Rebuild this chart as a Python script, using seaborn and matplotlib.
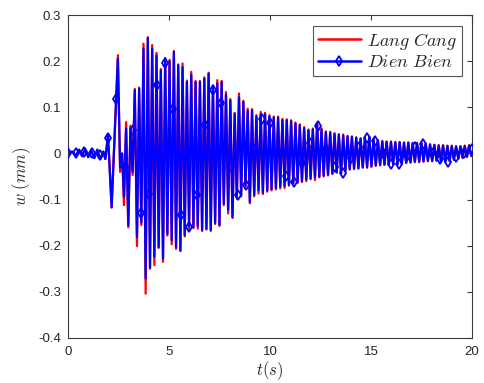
import numpy as np
import pandas as pd
import matplotlib
matplotlib.use("Agg")
import matplotlib.pyplot as plt
from matplotlib.lines import Line2D
import seaborn as sns

# ---------------- data ----------------
# early part of the records (time s, displacement mm)
early_t = [0.0, 0.2, 0.4, 0.55, 0.7, 0.85, 1.0, 1.15, 1.3, 1.45, 1.6, 1.75, 1.85, 1.98, 2.16, 2.47, 2.58, 2.68]
early_db = [0.0, 0.004, -0.004, 0.008, -0.006, 0.010, -0.008, 0.006, -0.010, 0.008, -0.012, 0.004, -0.012, 0.040, -0.117, 0.205, -0.030, 0.000]
early_lc = [0.0, 0.004, -0.004, 0.008, -0.006, 0.010, -0.008, 0.006, -0.010, 0.008, -0.012, 0.004, -0.012, 0.040, -0.117, 0.213, -0.040, 0.000]

# strong-motion part: alternating troughs / peaks, first trough at t0, half period dt
t0 = 2.77
dt = 0.1075
troughs_db = [-0.094, -0.156, -0.040, -0.181, -0.150, -0.271, -0.247, -0.224, -0.203, -0.228,
              -0.174, -0.188, -0.203, -0.210, -0.177, -0.158, -0.160, -0.157, -0.166, -0.163,
              -0.166, -0.150, -0.155, -0.109, -0.122, -0.138, -0.094, -0.090, -0.070, -0.105,
              -0.090, -0.080, -0.085, -0.080, -0.078, -0.075, -0.072, -0.070, -0.068, -0.064,
              -0.062, -0.060, -0.056, -0.054, -0.052, -0.050, -0.048, -0.046, -0.043, -0.040,
              -0.044, -0.038, -0.034, -0.033, -0.032, -0.030, -0.030, -0.028, -0.026, -0.025,
              -0.024, -0.024, -0.023, -0.024, -0.022, -0.020, -0.019, -0.018, -0.018, -0.017,
              -0.016, -0.016, -0.015, -0.016, -0.018, -0.016, -0.013, -0.011, -0.009, -0.007,
              -0.005]
troughs_lc = [-0.112, -0.160, -0.047, -0.201, -0.155, -0.304, -0.250, -0.242, -0.205, -0.235,
              -0.178, -0.197, -0.207, -0.212, -0.180, -0.166, -0.162, -0.163, -0.168, -0.165,
              -0.168, -0.153, -0.157, -0.112, -0.130, -0.140, -0.098, -0.093, -0.072, -0.108,
              -0.093, -0.087, -0.088, -0.083, -0.080, -0.078, -0.076, -0.075, -0.070, -0.066,
              -0.064, -0.062, -0.060, -0.056, -0.058, -0.052, -0.050, -0.048, -0.045, -0.042,
              -0.045, -0.039, -0.035, -0.034, -0.033, -0.031, -0.031, -0.029, -0.027, -0.026,
              -0.025, -0.025, -0.024, -0.025, -0.023, -0.021, -0.020, -0.019, -0.019, -0.018,
              -0.017, -0.017, -0.016, -0.017, -0.019, -0.017, -0.014, -0.012, -0.010, -0.008,
              -0.006]
peaks_db = [0.054, 0.055, 0.137, 0.140, 0.227, 0.250, 0.227, 0.212, 0.180, 0.205,
            0.200, 0.220, 0.191, 0.187, 0.155, 0.170, 0.155, 0.155, 0.162, 0.173,
            0.145, 0.152, 0.155, 0.127, 0.115, 0.086, 0.122, 0.112, 0.092, 0.094,
            0.080, 0.085, 0.085, 0.080, 0.078, 0.078, 0.072, 0.072, 0.070, 0.065,
            0.061, 0.055, 0.050, 0.052, 0.063, 0.052, 0.046, 0.045, 0.042, 0.040,
            0.039, 0.037, 0.036, 0.034, 0.032, 0.034, 0.036, 0.030, 0.028, 0.026,
            0.025, 0.025, 0.024, 0.024, 0.023, 0.023, 0.022, 0.022, 0.023, 0.021,
            0.019, 0.018, 0.017, 0.017, 0.016, 0.016, 0.015, 0.015, 0.016, 0.017]
peaks_lc = [0.068, 0.060, 0.140, 0.143, 0.238, 0.252, 0.235, 0.218, 0.183, 0.207,
            0.203, 0.222, 0.193, 0.195, 0.158, 0.177, 0.157, 0.157, 0.165, 0.175,
            0.147, 0.159, 0.157, 0.133, 0.118, 0.088, 0.130, 0.114, 0.097, 0.096,
            0.083, 0.090, 0.088, 0.083, 0.080, 0.080, 0.075, 0.074, 0.072, 0.067,
            0.063, 0.057, 0.052, 0.054, 0.064, 0.054, 0.048, 0.047, 0.044, 0.042,
            0.041, 0.038, 0.037, 0.035, 0.033, 0.035, 0.037, 0.031, 0.029, 0.027,
            0.026, 0.026, 0.025, 0.025, 0.024, 0.024, 0.023, 0.023, 0.024, 0.022,
            0.020, 0.019, 0.018, 0.018, 0.017, 0.017, 0.016, 0.016, 0.017, 0.018]

# Dien Bien marker samples
marker_t = [0.0, 0.4, 0.8, 1.2, 1.6, 2.0, 2.4, 2.8, 3.2, 3.6, 4.0, 4.4, 4.8, 5.2, 5.6, 6.0, 6.4,
            6.8, 7.2, 7.6, 8.0, 8.4, 8.8, 9.2, 9.6, 10.0, 10.4, 10.8, 11.2, 11.6, 12.0, 12.4,
            12.8, 13.2, 13.6, 14.0, 14.4, 14.8, 15.2, 15.6, 16.0, 16.4, 16.8, 17.2, 17.6,
            18.0, 18.4, 18.8, 19.2, 19.6, 20.0]
marker_w = [0.0, 0.002, 0.004, 0.002, -0.004, 0.033, 0.117, -0.030, 0.050, -0.130, -0.087,
            0.148, 0.195, 0.097, -0.134, -0.159, -0.090, 0.061, 0.137, 0.109, -0.030, -0.090,
            -0.069, 0.010, 0.074, 0.066, 0.000, -0.048, -0.062, -0.020, 0.022, 0.060, 0.010,
            -0.030, -0.042, -0.010, 0.015, 0.033, 0.027, 0.000, -0.022, -0.022, -0.005, 0.014,
            0.021, 0.002, -0.011, -0.018, -0.008, 0.000, 0.010]

series_names = ["Lang Cang", "Dien Bien"]
x_ticks = [0, 5, 10, 15, 20]
y_ticks = [-0.4, -0.3, -0.2, -0.1, 0, 0.1, 0.2, 0.3]
y_ticklabels = ["-0.4", "-0.3", "-0.2", "-0.1", "0", "0.1", "0.2", "0.3"]
x_label = r"$t(s)$"
y_label = r"$w\ (mm)$"


def build(early_w, troughs, peaks):
    n = len(troughs) + len(peaks)
    vals = np.empty(n)
    vals[0::2] = troughs
    vals[1::2] = peaks
    tt = t0 + dt * np.arange(n)
    keep = tt <= 20.0
    t_all = np.concatenate([early_t, tt[keep]])
    w_all = np.concatenate([early_w, vals[keep]])
    return pd.DataFrame({"t": t_all, "w": w_all})


df_lc = build(early_lc, troughs_lc, peaks_lc)
df_db = build(early_db, troughs_db, peaks_db)
df_m = pd.DataFrame({"t": marker_t, "w": marker_w})

# ---------------- style ----------------
sns.set_theme(style="white")
plt.rcParams["font.family"] = ["Liberation Sans", "DejaVu Sans"]
plt.rcParams["mathtext.fontset"] = "cm"

fig = plt.figure(figsize=(4.84, 3.83), dpi=100)
ax = fig.add_axes([0.1405, 0.1175, 0.8345, 0.8433])

RED = "#ff0000"
BLUE = "#0000ff"
LW = 1.6

sns.lineplot(data=df_lc, x="t", y="w", sort=False, estimator=None, color=RED,
             linewidth=LW, ax=ax, legend=False)
sns.lineplot(data=df_db, x="t", y="w", sort=False, estimator=None, color=BLUE,
             linewidth=LW, ax=ax, legend=False)
ax.plot(df_m["t"], df_m["w"], linestyle="none", marker="d", markersize=5.5,
        markerfacecolor="none", markeredgecolor=BLUE, markeredgewidth=1.3, zorder=3)

ax.set_xlim(0, 20)
ax.set_ylim(-0.4, 0.3)
ax.set_xticks(x_ticks)
ax.set_xticklabels([str(v) for v in x_ticks])
ax.set_yticks(y_ticks)
ax.set_yticklabels(y_ticklabels)

for s in ax.spines.values():
    s.set_visible(True)
    s.set_color("#3a3a3a")
    s.set_linewidth(0.8)
ax.tick_params(direction="in", length=3.5, width=0.8, color="#3a3a3a",
               top=True, right=True, labelsize=9.5, labelcolor="#262626")
ax.tick_params(axis="x", pad=6)
ax.tick_params(axis="y", pad=5)

ax.set_xlabel(x_label, fontsize=12, color="#262626", labelpad=1)
ax.set_ylabel(y_label, fontsize=12, color="#262626", labelpad=4)

handles = [Line2D([], [], color=RED, lw=1.8),
           Line2D([], [], color=BLUE, lw=1.8, marker="d", markersize=5.5,
                  markerfacecolor="none", markeredgewidth=1.3)]
labels = [r"$Lang\ Cang$", r"$Dien\ Bien$"]
leg = ax.legend(handles, labels, loc="upper right", bbox_to_anchor=(0.976, 0.966),
                fontsize=13, frameon=True, fancybox=False, framealpha=1,
                edgecolor="#555555", handlelength=2.4, handletextpad=0.35,
                borderpad=0.25, labelspacing=0.15, borderaxespad=0.0)
leg.get_frame().set_linewidth(0.8)

fig.savefig("out.png", dpi=100)
